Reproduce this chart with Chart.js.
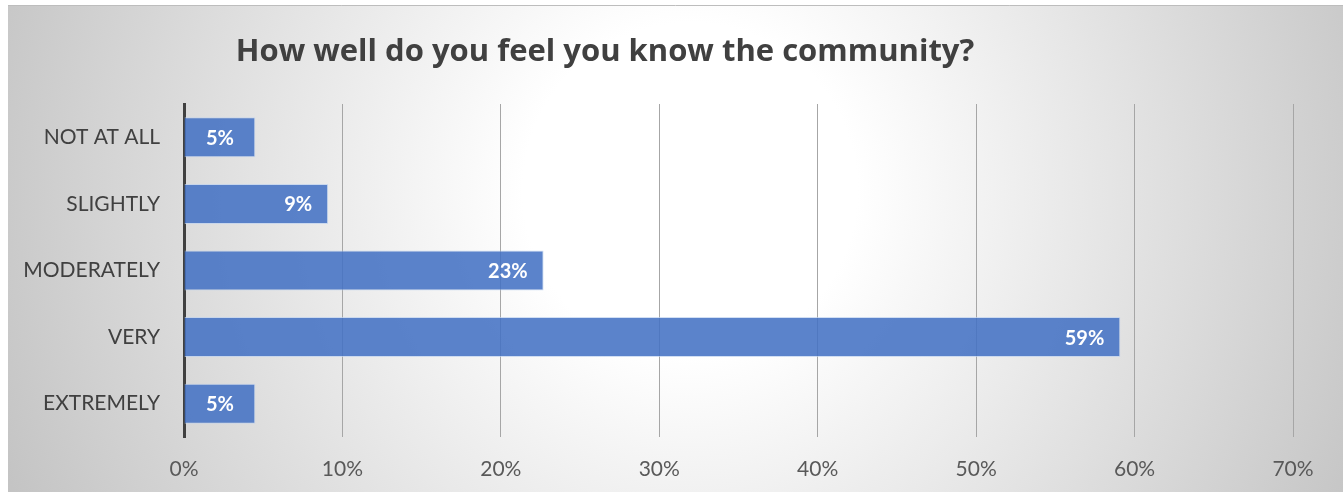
<!DOCTYPE html>
<html>
<head>
<meta charset="utf-8">
<script src="https://cdn.jsdelivr.net/npm/chart.js@4.4.1/dist/chart.umd.min.js"></script>
<style>
  html, body { margin: 0; padding: 0; background: #ffffff; }
  #wrap { width: 1343px; height: 494px; position: relative; }
</style>
</head>
<body>
<div id="wrap"><canvas id="community"></canvas></div>
<script>
// survey answers, share of respondents in percent
const answers = ["NOT AT ALL", "SLIGHTLY", "MODERATELY", "VERY", "EXTREMELY"];
const shares = [4.5, 9.1, 22.7, 59.1, 4.5];
const pctTicks = [0, 10, 20, 30, 40, 50, 60, 70];
const chartTitle = "How well do you feel you know the community?";

const labelFont = "Lato, 'Open Sans', sans-serif";

// grey radial backdrop with a white centre, plus the title text
const backdrop = {
    id: "backdrop",
    beforeDraw: function (chart) {
        const ctx = chart.ctx;
        ctx.save();
        ctx.fillStyle = "#ffffff";
        ctx.fillRect(0, 0, chart.width, chart.height);
        const g = ctx.createRadialGradient(690, 190, 0, 690, 190, 760);
        g.addColorStop(0, "#ffffff");
        g.addColorStop(0.22, "#ffffff");
        g.addColorStop(1, "#c2c2c2");
        ctx.fillStyle = g;
        ctx.fillRect(8, 5, chart.width - 8, 487);
        ctx.strokeStyle = "#bdbdbd";
        ctx.lineWidth = 1;
        ctx.beginPath();
        ctx.moveTo(8, 5.5);
        ctx.lineTo(chart.width, 5.5);
        ctx.stroke();
        ctx.restore();
    },
    afterDraw: function (chart) {
        const ctx = chart.ctx;
        ctx.save();
        ctx.fillStyle = "#404040";
        ctx.font = "bold 31px 'Open Sans', Lato, sans-serif";
        ctx.textAlign = "center";
        ctx.textBaseline = "alphabetic";
        ctx.fillText(chartTitle, 605, 61);
        ctx.restore();
    },
};

// white value labels at the end of each bar
const barValues = {
    id: "barValues",
    afterDatasetsDraw: function (chart) {
        const ctx = chart.ctx;
        const meta = chart.getDatasetMeta(0);
        ctx.save();
        ctx.fillStyle = "#ffffff";
        ctx.font = "bold 20px " + labelFont;
        ctx.textBaseline = "middle";
        meta.data.forEach(function (bar, i) {
            const text = Math.round(shares[i]) + "%";
            const tw = ctx.measureText(text).width;
            const w = bar.x - bar.base;
            if (w < tw * 3) {
                ctx.textAlign = "center";
                ctx.fillText(text, (bar.x + bar.base) / 2, bar.y + 1);
            } else {
                ctx.textAlign = "right";
                ctx.fillText(text, bar.x - 16, bar.y + 1);
            }
        });
        ctx.restore();
    },
};

const ctx = document.getElementById("community").getContext("2d");
const chart = new Chart(ctx, {
    type: "bar",
    data: {
        labels: answers,
        datasets: [
            {
                data: shares,
                backgroundColor: "rgba(68, 114, 196, 0.88)",
                borderColor: "rgba(190, 210, 240, 0.7)",
                borderWidth: 1,
                borderSkipped: "start",
                categoryPercentage: 1,
                barPercentage: 0.6,
            },
        ],
    },
    options: {
        indexAxis: "y",
        responsive: true,
        maintainAspectRatio: false,
        animation: false,
        layout: {
            padding: { top: 104, right: 50, left: 0, bottom: 0 },
        },
        scales: {
            x: {
                min: pctTicks[0],
                max: pctTicks[pctTicks.length - 1],
                afterBuildTicks: function (scale) {
                    scale.ticks = pctTicks.map((v) => ({ value: v }));
                },
                afterFit: function (scale) {
                    scale.height = 494 - 437;
                },
                grid: {
                    color: "#a6a6a6",
                    lineWidth: 1,
                    drawTicks: false,
                },
                border: { display: false },
                ticks: {
                    padding: 20,
                    color: "#595959",
                    font: { family: labelFont, size: 21 },
                    callback: function (value) {
                        return value + "%";
                    },
                },
            },
            y: {
                afterFit: function (scale) {
                    scale.width = 184;
                },
                grid: { display: false, drawTicks: false },
                border: { display: true, color: "#404040", width: 3 },
                ticks: {
                    padding: 24,
                    color: "#404040",
                    font: { family: labelFont, size: 21 },
                },
            },
        },
        plugins: {
            legend: { display: false },
            tooltip: { enabled: false },
            title: { display: false },
        },
    },
    plugins: [backdrop, barValues],
});
</script>
</body>
</html>
